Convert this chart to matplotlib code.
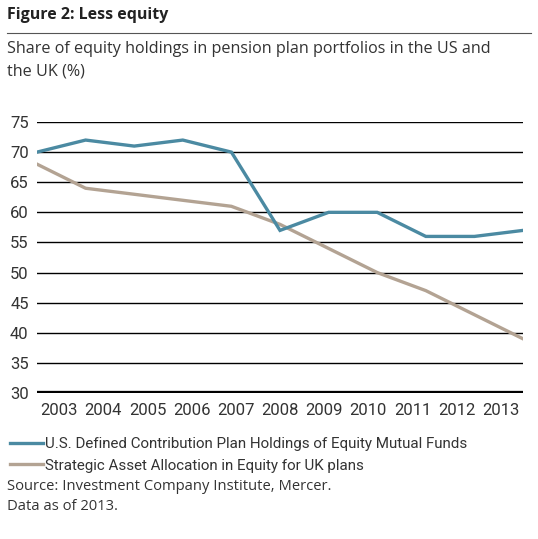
import matplotlib
matplotlib.use("Agg")
import matplotlib.pyplot as plt

years = ["2003", "2004", "2005", "2006", "2007", "2008",
         "2009", "2010", "2011", "2012", "2013"]
us_equity = [70, 72, 71, 72, 70, 57, 60, 60, 56, 56, 57]
uk_equity = [68, 64, 63, 62, 61, 58, 54, 50, 47, 43, 39]
y_ticks = [30, 35, 40, 45, 50, 55, 60, 65, 70, 75]

us_label = "U.S. Defined Contribution Plan Holdings of Equity Mutual Funds"
uk_label = "Strategic Asset Allocation in Equity for UK plans"

US_COLOR = "#4b8aa2"
UK_COLOR = "#b3a393"
TEXT_FONT = ["Open Sans", "DejaVu Sans"]
NARROW_FONT = ["Roboto", "DejaVu Sans"]

W, H = 538, 539
fig = plt.figure(figsize=(W / 100, H / 100), dpi=100)


def fx(px):
    return px / W


def fy(py):
    return 1 - py / H


# header
fig.text(fx(7), fy(15), "Figure 2: Less equity", family=TEXT_FONT,
         fontsize=11.5, fontweight="bold", color="#222222", va="center")
fig.add_artist(plt.Line2D([fx(7), fx(531)], [fy(33), fy(33)],
                          color="#555555", lw=0.8))
fig.text(fx(7), fy(49), "Share of equity holdings in pension plan portfolios in the US and",
         family=TEXT_FONT, fontsize=11.6, color="#333333", va="center")
fig.text(fx(7), fy(71), "the UK (%)",
         family=TEXT_FONT, fontsize=11.6, color="#333333", va="center")

# plot area
ax = fig.add_axes([fx(37), fy(393), fx(523) - fx(37), fy(122) - fy(393)])
x = list(range(len(years)))
ax.set_xlim(0, len(years) - 1)
ax.set_ylim(30, 75)
for v in y_ticks[1:]:
    ax.axhline(v, color="black", lw=1.0, zorder=1)
ax.axhline(30, color="black", lw=3.8, zorder=1)

ax.plot(x, us_equity, color=US_COLOR, lw=2.4, zorder=3,
        solid_joinstyle="miter", label=us_label)
ax.plot(x, uk_equity, color=UK_COLOR, lw=2.4, zorder=2,
        solid_joinstyle="miter", label=uk_label)

for s in ax.spines.values():
    s.set_visible(False)
ax.set_yticks(y_ticks)
ax.set_yticklabels([str(v) for v in y_ticks])
n = len(years)
ax.set_xticks([(i + 0.5) * (n - 1) / n for i in range(n)])
ax.set_xticklabels(years)
ax.tick_params(length=0, labelsize=12, labelcolor="#333333")
ax.tick_params(axis="y", pad=6)
ax.tick_params(axis="x", pad=7)
for lab in ax.get_xticklabels() + ax.get_yticklabels():
    lab.set_family(NARROW_FONT)

# legend
leg = fig.legend(loc="upper left", bbox_to_anchor=(fx(10), fy(437)),
                 frameon=False, handlelength=2.2, handletextpad=0.1,
                 labelspacing=0.5, borderaxespad=0, borderpad=0,
                 prop={"family": NARROW_FONT, "size": 10.9})
for t in leg.get_texts():
    t.set_color("#333333")

# source
fig.text(fx(7), fy(486), "Source: Investment Company Institute, Mercer.",
         family=TEXT_FONT, fontsize=10.6, color="#333333", va="center")
fig.text(fx(7), fy(506), "Data as of 2013.",
         family=TEXT_FONT, fontsize=10.6, color="#333333", va="center")

fig.savefig("out.png", dpi=100, facecolor="white")
